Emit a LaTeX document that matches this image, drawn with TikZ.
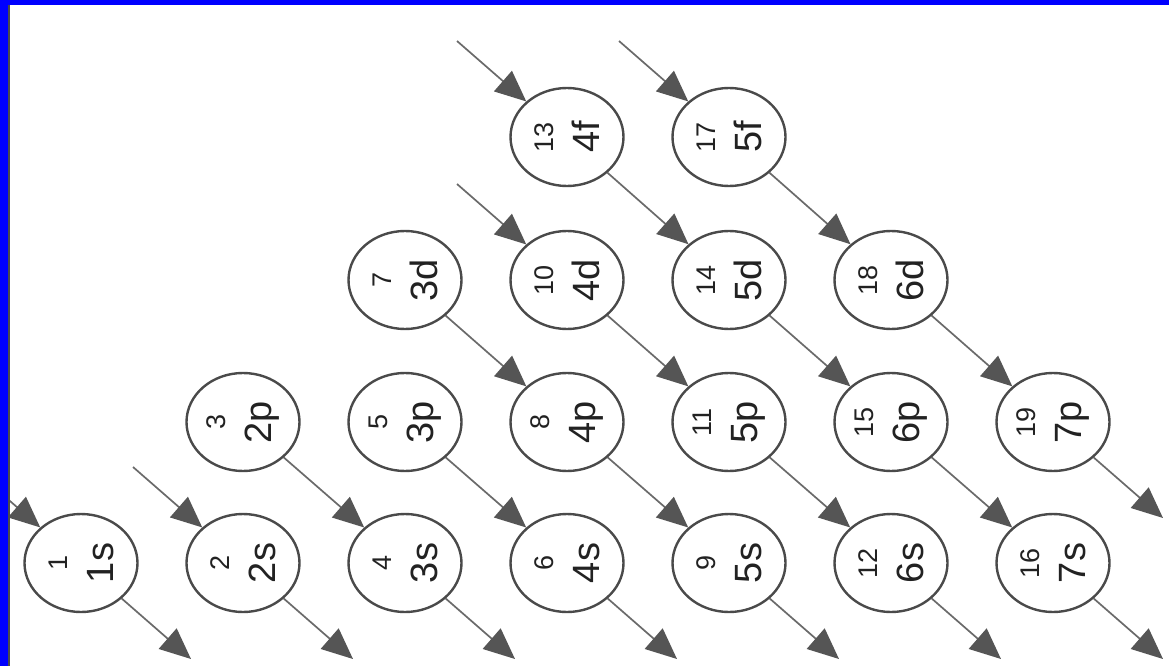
\documentclass[tikz,border=0pt]{standalone}
\usepackage{fontspec}
\setmainfont{Liberation Sans}
\usetikzlibrary{shapes.geometric,arrows.meta,calc}
\definecolor{ringc}{HTML}{4A4A4A}
\definecolor{linec}{HTML}{6A6A6A}
\definecolor{headc}{HTML}{555555}
\definecolor{txtc}{HTML}{222222}
\tikzset{
  orb/.style={ellipse,draw=ringc,line width=2.4pt,minimum width=113pt,minimum height=98pt,inner sep=0pt},
  orbtxt/.style={rotate=90,align=center,text=txtc,inner sep=0pt,font=\fontsize{38}{46}\selectfont},
  arr/.style={draw=linec,line width=1.7pt,-{Triangle[length=31pt,width=27pt,color=headc]}},
}
\newcommand{\orbnode}[5]{%
  \node[orb] (#1) at (#2,#3) {};
  \node[orbtxt] (#1t) at (#1.center) {{\fontsize{27}{46}\selectfont #4}\\#5};}
\begin{document}
\begin{tikzpicture}[x=1pt,y=-1pt]
\useasboundingbox (0,0) rectangle (1169,666);
\clip (0,0) rectangle (1169,666);
\fill[white] (0,0) rectangle (1169,666);
% row s
\orbnode{n1s}{81}{563}{1}{1s}
\orbnode{n2s}{243}{563}{2}{2s}
\orbnode{n3s}{405}{563}{4}{3s}
\orbnode{n4s}{567}{563}{6}{4s}
\orbnode{n5s}{729}{563}{9}{5s}
\orbnode{n6s}{891}{563}{12}{6s}
\orbnode{n7s}{1053}{563}{16}{7s}
% row p
\orbnode{n2p}{243}{422}{3}{2p}
\orbnode{n3p}{405}{422}{5}{3p}
\orbnode{n4p}{567}{422}{8}{4p}
\orbnode{n5p}{729}{422}{11}{5p}
\orbnode{n6p}{891}{422}{15}{6p}
\orbnode{n7p}{1053}{422}{19}{7p}
% row d
\orbnode{n3d}{405}{280}{7}{3d}
\orbnode{n4d}{567}{280}{10}{4d}
\orbnode{n5d}{729}{280}{14}{5d}
\orbnode{n6d}{891}{280}{18}{6d}
% row f
\orbnode{n4f}{567}{137}{13}{4f}
\orbnode{n5f}{729}{137}{17}{5f}
% free ends
\foreach \n in {n1s,n2s,n3s,n4s,n5s,n6s,n7s,n7p}{
  \coordinate (\n o) at ($(\n)+(110,96)$);
  \draw[arr] (\n) -- (\n o);
}
\foreach \n in {n1s,n2s,n4d,n4f,n5f}{
  \coordinate (\n i) at ($(\n)+(-110,-96)$);
  \draw[arr] (\n i) -- (\n);
}
% diagonal connectors
\draw[arr] (n2p) -- (n3s);
\draw[arr] (n3p) -- (n4s);
\draw[arr] (n3d) -- (n4p);
\draw[arr] (n4p) -- (n5s);
\draw[arr] (n4d) -- (n5p);
\draw[arr] (n5p) -- (n6s);
\draw[arr] (n4f) -- (n5d);
\draw[arr] (n5d) -- (n6p);
\draw[arr] (n6p) -- (n7s);
\draw[arr] (n5f) -- (n6d);
\draw[arr] (n6d) -- (n7p);
% blue frame
\fill[blue] (0,0) rectangle (1169,5);
\fill[blue] (0,0) rectangle (8,666);
\fill[black!70] (8,5) rectangle (10,666);
\end{tikzpicture}
\end{document}
